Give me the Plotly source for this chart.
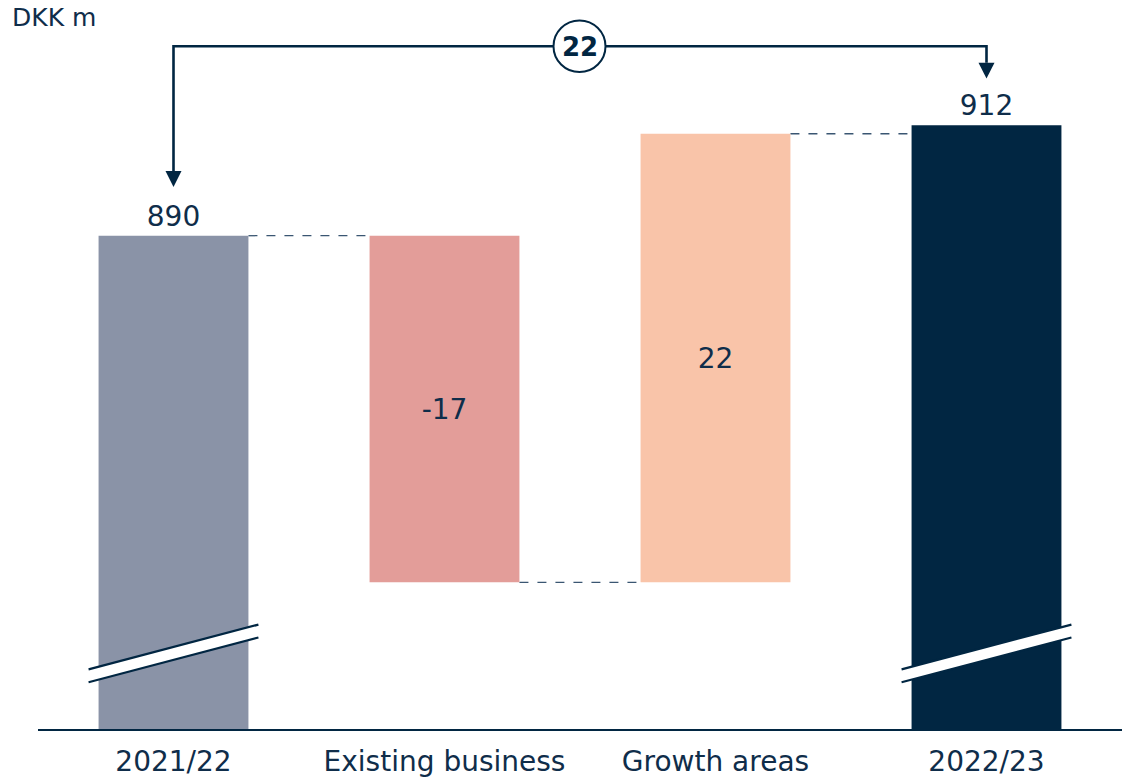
import plotly.graph_objects as go

# ---- data -------------------------------------------------------------
categories = ["2021/22", "Existing business", "Growth areas", "2022/23"]
start_value = 890          # DKK m, 2021/22
end_value = 912            # DKK m, 2022/23
delta_values = [-17, 22]   # Existing business, Growth areas
change_label = "22"

# ---- style ------------------------------------------------------------
NAVY = "#012642"
TEXT = "#0f2d4a"
GREY = "#8a93a7"
PINK = "#e39d99"
PEACH = "#f9c4a9"
FONT = "'DejaVu Sans', sans-serif"

W, H = 1128, 778
MARGIN_L, MARGIN_R, MARGIN_T, MARGIN_B = 38, 6, 0, 45
PLOT_W = W - MARGIN_L - MARGIN_R
PLOT_H = H - MARGIN_T - MARGIN_B
SLOT_PX = PLOT_W / 4
BAR_W = 0.553

# Layout anchors (pixel rows inside the plot area) for the truncated axes
START_TOP_PX = 237
END_TOP_PX = 126
DELTA_PX_PER_UNIT = 20.5

# totals axis: truncated, start/end bar tops at their anchor rows
tot_scale = (START_TOP_PX - END_TOP_PX) / (end_value - start_value)
tot_lo = start_value - (PLOT_H - START_TOP_PX) / tot_scale
tot_hi = start_value + START_TOP_PX / tot_scale

# delta axis: finer scale, shares the starting level with the totals axis
d_lo = start_value - (PLOT_H - START_TOP_PX) / DELTA_PX_PER_UNIT
d_hi = start_value + START_TOP_PX / DELTA_PX_PER_UNIT

# floating bar bases follow the running total
bases = []
running = start_value
for d in delta_values:
    bases.append(running)
    running += d
delta_end = running


def py(px):
    """pixel row inside the plot area -> paper y"""
    return (PLOT_H - px) / PLOT_H


def xpx(px):
    """pixel column of the page -> x data coordinate"""
    return (px - MARGIN_L) / SLOT_PX - 0.5


fig = go.Figure()

# total bars (truncated axis)
fig.add_trace(go.Bar(
    x=[0, 3], y=[start_value, end_value], yaxis="y",
    width=BAR_W, marker=dict(color=[GREY, NAVY], line=dict(width=0)),
    text=[str(start_value), str(end_value)], textposition="outside",
    textfont=dict(family=FONT, size=28, color=TEXT), cliponaxis=False,
    showlegend=False, hoverinfo="skip",
))

# floating change bars
fig.add_trace(go.Bar(
    x=[1, 2], y=delta_values, base=bases, yaxis="y2",
    width=BAR_W, marker=dict(color=[PINK, PEACH], line=dict(width=0)),
    text=[str(v) for v in delta_values], textposition="inside",
    insidetextanchor="middle",
    textfont=dict(family=FONT, size=28, color=TEXT),
    showlegend=False, hoverinfo="skip",
))

shapes = []
half = BAR_W / 2
dash_line = dict(color="#3a5672", width=1.3, dash="dash")
# connectors
shapes.append(dict(type="line", xref="x", yref="y", x0=0 + half, x1=1 - half,
                   y0=start_value, y1=start_value, line=dash_line, layer="below"))
shapes.append(dict(type="line", xref="x", yref="y2", x0=1 + half, x1=2 - half,
                   y0=bases[1], y1=bases[1], line=dash_line, layer="below"))
shapes.append(dict(type="line", xref="x", yref="y2", x0=2 + half, x1=3 - half,
                   y0=delta_end, y1=delta_end, line=dash_line, layer="below"))

# axis-break marks on the total bars
ext = 10 / SLOT_PX
for xc in (0, 3):
    xa, xb = xc - half - ext, xc + half + ext
    up_a, up_b, gap = 673, 628, 13
    shapes.append(dict(
        type="path", xref="x", yref="paper",
        path=(f"M {xa},{py(up_a)} L {xb},{py(up_b)} "
              f"L {xb},{py(up_b + gap)} L {xa},{py(up_a + gap)} Z"),
        fillcolor="white", line=dict(width=0)))
    for off in (0, gap):
        shapes.append(dict(type="line", xref="x", yref="paper",
                           x0=xa, x1=xb, y0=py(up_a + off), y1=py(up_b + off),
                           line=dict(color=NAVY, width=2.2)))

# bracket showing the total change
BR_Y = 46.5
shapes.append(dict(
    type="path", xref="x", yref="paper",
    path=f"M 0,{py(173)} L 0,{py(BR_Y)} L 3,{py(BR_Y)} L 3,{py(63)}",
    line=dict(color=NAVY, width=2.6)))
aw = 8 / SLOT_PX
for xc, base_px, tip_px in ((0, 172, 188), (3, 63, 79)):
    shapes.append(dict(
        type="path", xref="x", yref="paper",
        path=f"M {xc - aw},{py(base_px)} L {xc + aw},{py(base_px)} L {xc},{py(tip_px)} Z",
        fillcolor=NAVY, line=dict(width=0)))

# circle badge on the bracket
cx_px, cy_px, r_px = 579.5, 46.5, 26
cx = xpx(cx_px)
shapes.append(dict(
    type="circle", xref="x", yref="paper",
    x0=cx - r_px / SLOT_PX, x1=cx + r_px / SLOT_PX,
    y0=py(cy_px + r_px), y1=py(cy_px - r_px),
    fillcolor="white", line=dict(color=NAVY, width=2)))

annotations = [
    dict(x=cx, y=py(cy_px + 1), xref="x", yref="paper", text=f"<b>{change_label}</b>",
         xanchor="center", yanchor="middle", showarrow=False,
         font=dict(family=FONT, size=26, color=NAVY)),
    dict(x=(10 - MARGIN_L) / PLOT_W, y=py(18), xref="paper", yref="paper",
         text="DKK m", xanchor="left", yanchor="middle", showarrow=False,
         font=dict(family=FONT, size=25, color=TEXT)),
]

fig.update_layout(
    width=W, height=H,
    margin=dict(l=MARGIN_L, r=MARGIN_R, t=MARGIN_T, b=MARGIN_B, pad=0),
    paper_bgcolor="white", plot_bgcolor="white",
    barmode="overlay",
    xaxis=dict(range=[-0.5, 3.5], tickmode="array", tickvals=[0, 1, 2, 3],
               ticktext=categories, showgrid=False, zeroline=False,
               showline=True, linecolor=NAVY, linewidth=2, ticks="",
               tickfont=dict(family=FONT, size=28, color=TEXT),
               ticklabelstandoff=6, fixedrange=True),
    yaxis=dict(range=[tot_lo, tot_hi], visible=False, fixedrange=True),
    yaxis2=dict(range=[d_lo, d_hi], overlaying="y", visible=False, fixedrange=True),
    shapes=shapes, annotations=annotations,
)

fig.write_html("out.html")
